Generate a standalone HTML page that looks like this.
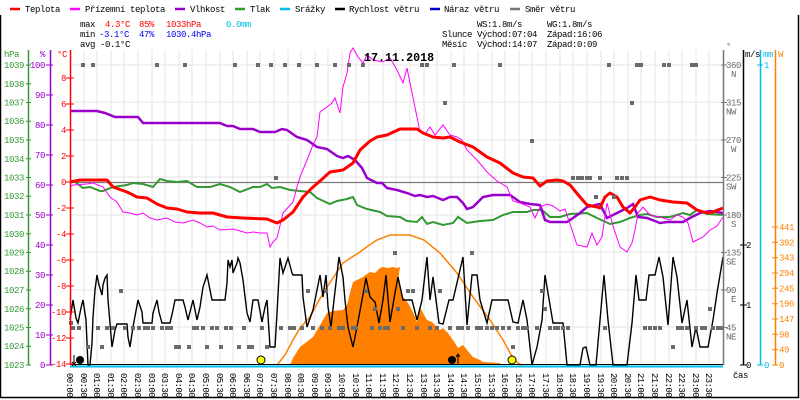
<!DOCTYPE html>
<html><head><meta charset="utf-8"><style>
html,body{margin:0;padding:0;background:#fff;}
svg{display:block;}
text{font-family:"Liberation Mono","DejaVu Sans Mono",monospace;font-size:9px;letter-spacing:-0.4px;}
.t{font-size:9px;letter-spacing:-0.6px;}
</style></head><body>
<svg width="800" height="400" viewBox="0 0 800 400" xmlns="http://www.w3.org/2000/svg">
<rect width="800" height="400" fill="#fff"/>
<!-- frame -->
<path d="M0.5,15 V397.5 H798.5 V15" fill="none" stroke="#000" stroke-width="1.5"/>

<!-- vertical grid -->
<path stroke="#e4e4e4" stroke-width="1" fill="none" shape-rendering="crispEdges" d="M84,50V365M97,50V365M111,50V365M124,50V365M138,50V365M152,50V365M165,50V365M179,50V365M192,50V365M206,50V365M220,50V365M233,50V365M247,50V365M260,50V365M274,50V365M288,50V365M301,50V365M315,50V365M328,50V365M342,50V365M356,50V365M369,50V365M383,50V365M396,50V365M410,50V365M424,50V365M437,50V365M451,50V365M464,50V365M478,50V365M492,50V365M505,50V365M519,50V365M532,50V365M546,50V365M560,50V365M573,50V365M587,50V365M601,50V365M614,50V365M628,50V365M641,50V365M655,50V365M669,50V365M682,50V365M696,50V365M709,50V365"/>
<!-- horizontal grid -->
<path stroke="#e4e4e4" stroke-width="1" fill="none" shape-rendering="crispEdges" d="M70,65H723M70,102H723M70,140H723M70,177H723M70,215H723M70,252H723M70,290H723M70,327H723"/>
<!-- 0 C line -->
<path d="M70,182.5H723" stroke="#7a7a7a" stroke-width="1.3"/>

<!-- solar area -->
<polygon fill="#ff8000" points="290,365 293,358 300,347 313,337 323,320 327,313 333,311 343,310 347,305 350,293 353,282 357,280 363,277 370,272 375,273 380,268 383,267 388,268 393,267 397,268 400,267 398,280 403,297 408,303 413,312 417,322 420,307 423,313 427,320 432,322 437,327 440,330 443,328 448,333 455,343 458,348 463,345 467,350 473,357 480,360 483,362 500,363 502,365"/>
<!-- theoretical solar -->
<polyline fill="none" stroke="#ff8000" stroke-width="1.5" points="277,365 285,355 293,340 300,328 310,317 318,302 327,287 335,275 343,263 352,257 360,252 368,246 377,240 390,235 410,235 424,240 440,253 457,273 473,297 490,320 503,340 513,358 518,363 522,365"/>

<!-- pressure -->
<polyline fill="none" stroke="#339933" stroke-width="2" points="70,182 75,182 83,188 90,187 100,191 103,191 113,187 127,185 133,183 143,184 153,187 160,179 167,181 177,182 187,181 197,187 210,187 220,184 230,187 240,192 253,187 260,187 267,184 272,188 280,187 290,190 300,191 310,192 317,198 330,204 337,201 347,199 353,197 357,205 367,209 380,212 387,216 400,217 407,221 417,222 422,217 427,224 433,222 443,225 453,223 458,217 467,223 480,221 493,220 503,215 513,212 527,212 533,210 542,210 550,217 560,217 570,214 587,213 597,218 610,224 620,222 630,218 640,215 647,214 657,217 670,217 683,213 690,215 697,210 707,214 723,215"/>
<!-- humidity -->
<polyline fill="none" stroke="#9900cc" stroke-width="2.5" points="70,111 97,111 105,113 115,117 138,117 143,123 220,123 227,126 233,126 240,129 253,129 260,132 275,132 282,129 287,130 297,137 307,140 317,147 327,149 337,156 343,158 348,156 355,160 362,168 367,178 377,183 382,183 387,188 397,190 407,193 415,196 420,195 427,197 433,196 443,200 450,197 457,197 463,203 467,209 473,207 483,197 493,195 510,195 520,202 530,204 540,205 545,220 550,222 567,222 573,218 580,213 587,207 600,204 607,218 617,213 627,208 633,204 638,217 647,218 660,223 667,222 683,222 690,218 700,213 710,211 723,213"/>
<!-- apparent temperature -->
<polyline fill="none" stroke="#ff00ff" stroke-width="1" points="70,187 73,185 87,184 93,183 103,187 110,197 117,202 123,212 130,213 137,215 143,213 150,218 157,220 167,218 175,222 183,223 193,220 200,223 207,227 213,226 220,230 233,229 247,233 253,232 260,233 267,233 270,247 273,242 277,238 283,213 293,202 297,187 300,177 307,160 313,145 317,137 320,112 327,107 332,103 335,98 340,113 343,87 347,73 350,53 353,48 358,57 363,63 367,55 373,60 383,62 390,58 397,70 403,83 407,68 410,83 417,117 420,132 425,134 430,127 435,135 443,125 450,135 457,137 462,140 467,150 477,160 487,172 497,181 507,187 513,201 520,203 530,207 535,218 540,207 547,204 553,206 560,211 565,209 572,230 577,245 587,247 592,233 597,245 602,237 607,203 613,226 620,247 627,252 632,243 635,230 638,213 643,207 648,213 653,216 660,217 670,220 677,215 683,217 688,223 693,242 697,240 703,237 710,230 717,226 723,217"/>
<!-- temperature -->
<polyline fill="none" stroke="#ff0000" stroke-width="3" stroke-linejoin="round" points="70,182 75,181 80,180 107,180 113,187 127,192 137,197 147,198 157,204 167,208 177,209 187,212 200,213 213,213 227,217 243,218 267,219 277,223 283,220 293,212 303,197 313,187 320,181 330,172 343,170 353,163 360,150 370,141 377,137 387,135 400,129 417,129 423,133 433,137 443,138 450,137 460,142 473,147 487,157 500,163 513,173 523,177 533,178 540,186 547,181 557,180 563,181 570,185 580,197 587,205 597,207 600,208 605,197 610,193 617,197 623,207 630,213 635,207 640,200 650,197 660,200 673,202 687,203 697,210 707,213 713,212 723,208"/>
<!-- wind speed -->
<polyline fill="none" stroke="#000" stroke-width="1.4" points="70,320 73,300 76,318 78,323 81,308 83,300 86,320 88,365 90,365 92,343 93,317 95,290 97,275 99,285 102,295 103,285 105,278 107,275 108,300 112,347 115,330 117,324 127,324 128,337 130,347 133,327 138,300 142,312 143,323 152,323 153,313 157,300 159,312 162,323 170,323 173,310 175,300 183,300 185,307 188,320 193,300 197,320 200,307 203,287 207,275 210,290 212,300 225,300 227,283 228,260 230,267 232,260 233,273 237,263 238,258 240,263 243,280 247,313 250,322 253,300 258,300 262,322 265,307 267,300 270,347 275,347 277,313 280,258 283,273 288,258 292,273 293,275 302,275 303,297 307,327 313,310 320,275 323,297 326,275 328,307 331,327 334,300 339,257 343,277 345,300 348,327 353,347 357,327 362,300 366,278 370,297 375,302 379,323 383,300 386,275 390,322 395,293 398,277 403,300 412,300 417,320 422,300 427,257 430,300 433,277 439,323 443,324 449,300 453,300 463,257 467,325 472,275 477,275 480,300 487,323 492,300 508,300 513,322 518,323 523,300 527,320 532,365 537,347 542,320 545,275 548,293 553,323 563,323 567,365 580,365 583,348 586,347 590,365 596,365 600,320 604,275 608,320 613,365 627,365 632,323 636,275 639,300 646,300 649,275 655,275 659,257 663,277 668,325 673,257 677,277 682,323 687,300 692,347 696,327 700,347 708,347 713,320 717,293 723,257"/>

<!-- direction squares -->
<g fill="#6b6b6b">
<rect x="81" y="63" width="4" height="4"/><rect x="91" y="63" width="4" height="4"/><rect x="155" y="63" width="4" height="4"/><rect x="183" y="63" width="4" height="4"/><rect x="233" y="63" width="4" height="4"/><rect x="256" y="63" width="4" height="4"/><rect x="269" y="63" width="4" height="4"/><rect x="283" y="63" width="4" height="4"/><rect x="297" y="63" width="4" height="4"/><rect x="315" y="63" width="4" height="4"/><rect x="333" y="63" width="4" height="4"/><rect x="347" y="63" width="4" height="4"/><rect x="361" y="63" width="4" height="4"/><rect x="420" y="63" width="4" height="4"/><rect x="425" y="63" width="4" height="4"/><rect x="452" y="63" width="4" height="4"/><rect x="498" y="63" width="4" height="4"/><rect x="607" y="63" width="4" height="4"/><rect x="635" y="63" width="4" height="4"/><rect x="639" y="63" width="4" height="4"/><rect x="662" y="63" width="4" height="4"/><rect x="667" y="63" width="4" height="4"/><rect x="690" y="63" width="4" height="4"/><rect x="694" y="63" width="4" height="4"/>
<rect x="443" y="101" width="4" height="4"/><rect x="630" y="101" width="4" height="4"/>
<rect x="530" y="139" width="4" height="4"/>
<rect x="274" y="176" width="4" height="4"/><rect x="571" y="176" width="4" height="4"/><rect x="576" y="176" width="4" height="4"/><rect x="580" y="176" width="4" height="4"/><rect x="585" y="176" width="4" height="4"/><rect x="588" y="176" width="4" height="4"/><rect x="598" y="176" width="4" height="4"/><rect x="615" y="176" width="4" height="4"/><rect x="620" y="176" width="4" height="4"/><rect x="625" y="176" width="4" height="4"/>
<rect x="594" y="195" width="4" height="4"/><rect x="612" y="195" width="4" height="4"/>
<rect x="393" y="251" width="4" height="4"/><rect x="470" y="251" width="4" height="4"/>
<rect x="119" y="289" width="4" height="4"/><rect x="306" y="289" width="4" height="4"/><rect x="324" y="289" width="4" height="4"/><rect x="364" y="289" width="4" height="4"/><rect x="406" y="289" width="4" height="4"/><rect x="411" y="289" width="4" height="4"/><rect x="438" y="289" width="4" height="4"/><rect x="540" y="289" width="4" height="4"/>
<rect x="373" y="307" width="4" height="4"/><rect x="396" y="307" width="4" height="4"/><rect x="543" y="307" width="4" height="4"/><rect x="708" y="307" width="4" height="4"/>
<rect x="69" y="321" width="4" height="4"/>
<rect x="71" y="326" width="4" height="4"/><rect x="77" y="326" width="4" height="4"/><rect x="96" y="326" width="4" height="4"/><rect x="105" y="326" width="4" height="4"/><rect x="111" y="326" width="4" height="4"/><rect x="123" y="326" width="4" height="4"/><rect x="131" y="326" width="4" height="4"/><rect x="137" y="326" width="4" height="4"/><rect x="143" y="326" width="4" height="4"/><rect x="146" y="326" width="4" height="4"/><rect x="151" y="326" width="4" height="4"/><rect x="160" y="326" width="4" height="4"/><rect x="165" y="326" width="4" height="4"/><rect x="169" y="326" width="4" height="4"/><rect x="192" y="326" width="4" height="4"/><rect x="195" y="326" width="4" height="4"/><rect x="201" y="326" width="4" height="4"/><rect x="210" y="326" width="4" height="4"/><rect x="215" y="326" width="4" height="4"/><rect x="224" y="326" width="4" height="4"/><rect x="229" y="326" width="4" height="4"/><rect x="242" y="326" width="4" height="4"/><rect x="260" y="326" width="4" height="4"/><rect x="279" y="326" width="4" height="4"/><rect x="288" y="326" width="4" height="4"/><rect x="292" y="326" width="4" height="4"/><rect x="300" y="326" width="4" height="4"/><rect x="311" y="326" width="4" height="4"/><rect x="320" y="326" width="4" height="4"/><rect x="328" y="326" width="4" height="4"/><rect x="337" y="326" width="4" height="4"/><rect x="341" y="326" width="4" height="4"/><rect x="351" y="326" width="4" height="4"/><rect x="354" y="326" width="4" height="4"/><rect x="370" y="326" width="4" height="4"/><rect x="378" y="326" width="4" height="4"/><rect x="383" y="326" width="4" height="4"/><rect x="386" y="326" width="4" height="4"/><rect x="401" y="326" width="4" height="4"/><rect x="415" y="326" width="4" height="4"/><rect x="428" y="326" width="4" height="4"/><rect x="435" y="326" width="4" height="4"/><rect x="448" y="326" width="4" height="4"/><rect x="456" y="326" width="4" height="4"/><rect x="460" y="326" width="4" height="4"/><rect x="466" y="326" width="4" height="4"/><rect x="475" y="326" width="4" height="4"/><rect x="479" y="326" width="4" height="4"/><rect x="485" y="326" width="4" height="4"/><rect x="490" y="326" width="4" height="4"/><rect x="495" y="326" width="4" height="4"/><rect x="501" y="326" width="4" height="4"/><rect x="507" y="326" width="4" height="4"/><rect x="516" y="326" width="4" height="4"/><rect x="521" y="326" width="4" height="4"/><rect x="525" y="326" width="4" height="4"/><rect x="535" y="326" width="4" height="4"/><rect x="548" y="326" width="4" height="4"/><rect x="553" y="326" width="4" height="4"/><rect x="556" y="326" width="4" height="4"/><rect x="561" y="326" width="4" height="4"/><rect x="566" y="326" width="4" height="4"/><rect x="603" y="326" width="4" height="4"/><rect x="643" y="326" width="4" height="4"/><rect x="648" y="326" width="4" height="4"/><rect x="653" y="326" width="4" height="4"/><rect x="658" y="326" width="4" height="4"/><rect x="676" y="326" width="4" height="4"/><rect x="680" y="326" width="4" height="4"/><rect x="685" y="326" width="4" height="4"/><rect x="694" y="326" width="4" height="4"/><rect x="700" y="326" width="4" height="4"/><rect x="703" y="326" width="4" height="4"/><rect x="711" y="326" width="4" height="4"/><rect x="716" y="326" width="4" height="4"/><rect x="720" y="326" width="4" height="4"/>
<rect x="86" y="345" width="4" height="4"/><rect x="100" y="345" width="4" height="4"/><rect x="174" y="345" width="4" height="4"/><rect x="177" y="345" width="4" height="4"/><rect x="187" y="345" width="4" height="4"/><rect x="205" y="345" width="4" height="4"/><rect x="219" y="345" width="4" height="4"/><rect x="237" y="345" width="4" height="4"/><rect x="247" y="345" width="4" height="4"/><rect x="250" y="345" width="4" height="4"/><rect x="265" y="345" width="4" height="4"/><rect x="511" y="345" width="4" height="4"/><rect x="671" y="345" width="4" height="4"/>
</g>

<!-- bottom lines -->
<path d="M70,364.5H723" stroke="#000" stroke-width="1"/>
<path d="M70,366.5H723" stroke="#00bbee" stroke-width="2"/>

<!-- sun / moon markers -->
<circle cx="80" cy="360" r="4" fill="#000"/>
<circle cx="452" cy="360" r="4" fill="#000"/>
<circle cx="261" cy="360" r="4" fill="#ffff00" stroke="#000" stroke-width="1"/>
<circle cx="512" cy="360" r="4" fill="#ffff00" stroke="#000" stroke-width="1"/>
<path d="M458,365V354M456,357L458,354L460,357" stroke="#000" stroke-width="1" fill="none"/>
<path d="M74,365V355M72,362L76,366M76,362L72,366" stroke="#000" stroke-width="1" fill="none"/>

<!-- axes -->
<path d="M28.5,50V365" stroke="#339933" stroke-width="1.5"/>
<path d="M50.5,50V365" stroke="#9900cc" stroke-width="1.5"/>
<path d="M70.5,50V365" stroke="#ff0000" stroke-width="1.5"/>
<path d="M723.5,50V365" stroke="#777" stroke-width="1.5"/>
<path d="M743.5,50V365" stroke="#000" stroke-width="1.5"/>
<path d="M760.5,50V365" stroke="#00bbee" stroke-width="1.5"/>
<path d="M775.5,50V365" stroke="#ff8000" stroke-width="1.5"/>

<!-- hPa ticks -->
<g stroke="#339933" stroke-width="1"><path d="M26,65H31M26,83.75H31M26,102.5H31M26,121.25H31M26,140H31M26,158.75H31M26,177.5H31M26,196.25H31M26,215H31M26,233.75H31M26,252.5H31M26,271.25H31M26,290H31M26,308.75H31M26,327.5H31M26,346.25H31M26,365H31"/></g>
<g fill="#339933" text-anchor="end">
<text x="24" y="68">1039</text><text x="24" y="87">1038</text><text x="24" y="105.5">1037</text><text x="24" y="124">1036</text><text x="24" y="143">1035</text><text x="24" y="162">1034</text><text x="24" y="180.5">1033</text><text x="24" y="199">1032</text><text x="24" y="218">1031</text><text x="24" y="237">1030</text><text x="24" y="255.5">1029</text><text x="24" y="274">1028</text><text x="24" y="293">1027</text><text x="24" y="312">1026</text><text x="24" y="330.5">1025</text><text x="24" y="349">1024</text><text x="24" y="368">1023</text>
</g>
<text x="4" y="57" fill="#339933">hPa</text>
<!-- % ticks -->
<g stroke="#9900cc" stroke-width="1"><path d="M46,65H53M46,95H53M46,125H53M46,155H53M46,185H53M46,215H53M46,245H53M46,275H53M46,305H53M46,335H53M46,365H53"/></g>
<g fill="#9900cc" text-anchor="end">
<text x="45" y="68">100</text><text x="45" y="98">90</text><text x="45" y="128">80</text><text x="45" y="158">70</text><text x="45" y="188">60</text><text x="45" y="218">50</text><text x="45" y="248">40</text><text x="45" y="278">30</text><text x="45" y="308">20</text><text x="45" y="338">10</text><text x="45" y="368">0</text>
</g>
<text x="40" y="57" fill="#9900cc">%</text>
<!-- C ticks -->
<g stroke="#ff0000" stroke-width="1"><path d="M66,78H74M66,104H74M66,130H74M66,156H74M66,182H74M66,208H74M66,234H74M66,260H74M66,286H74M66,312H74M66,338H74M66,364H74"/></g>
<g fill="#ff0000" text-anchor="end">
<text x="66" y="81">8</text><text x="66" y="107">6</text><text x="66" y="133">4</text><text x="66" y="159">2</text><text x="66" y="185">0</text><text x="66" y="211">-2</text><text x="66" y="237">-4</text><text x="66" y="263">-6</text><text x="66" y="289">-8</text><text x="66" y="315">-10</text><text x="66" y="341">-12</text><text x="66" y="367">-14</text>
</g>
<text x="57" y="57" fill="#ff0000">°C</text>

<!-- direction axis -->
<g stroke="#777" stroke-width="1"><path d="M721,65H727M721,102.5H727M721,140H727M721,177.5H727M721,215H727M721,252.5H727M721,290H727M721,327.5H727"/></g>
<g fill="#666">
<text x="726" y="68">360</text><text x="726" y="105.5">315</text><text x="726" y="143">270</text><text x="726" y="180.5">225</text><text x="726" y="218">180</text><text x="726" y="255.5">135</text><text x="726" y="293">90</text><text x="726" y="330.5">45</text>
</g>
<g fill="#666" text-anchor="end">
<text x="736" y="77">N</text><text x="736" y="114.5">NW</text><text x="736" y="152">W</text><text x="736" y="189.5">SW</text><text x="736" y="227">S</text><text x="736" y="264.5">SE</text><text x="736" y="302">E</text><text x="736" y="339.5">NE</text>
</g>
<text x="726" y="49" fill="#666">°</text>
<!-- m/s -->
<g stroke="#000" stroke-width="1"><path d="M740,245H747M740,305H747M740,365H747"/></g>
<g fill="#000"><text x="746" y="248">2</text><text x="746" y="308">1</text><text x="746" y="368">0</text></g>
<text x="745" y="57" fill="#000">m/s</text>
<!-- mm -->
<g stroke="#00bbee" stroke-width="1"><path d="M757,65H763M757,365H763"/></g>
<g fill="#00bbee"><text x="764" y="68">1</text><text x="764" y="368">0</text></g>
<text x="763" y="57" fill="#00bbee">mm</text>
<!-- W -->
<g stroke="#ff8000" stroke-width="1"><path d="M772,227H778M772,242.3H778M772,257.7H778M772,273H778M772,288.3H778M772,303.7H778M772,319H778M772,334.3H778M772,349.7H778M772,365H778"/></g>
<g fill="#ff8000">
<text x="779" y="230">441</text><text x="779" y="245.3">392</text><text x="779" y="260.7">343</text><text x="779" y="276">294</text><text x="779" y="291.3">245</text><text x="779" y="306.7">196</text><text x="779" y="322">147</text><text x="779" y="337.3">98</text><text x="779" y="352.7">49</text><text x="779" y="368">0</text>
</g>
<text x="778" y="57" fill="#ff8000">W</text>
<text x="733" y="378" fill="#000">čas</text>

<!-- title -->
<text x="364" y="61" fill="#000" style="font-size:11.7px;font-weight:bold;letter-spacing:0">17.11.2018</text>

<!-- legend -->
<g stroke-width="2.5">
<path d="M10,9H20" stroke="#ff0000"/><path d="M70,9H80" stroke="#ff00ff"/><path d="M175,9H185" stroke="#9900cc"/><path d="M235,9H245" stroke="#339933"/><path d="M280,9H290" stroke="#00bbee"/><path d="M335,9H345" stroke="#000"/><path d="M430,9H440" stroke="#0000cc"/><path d="M510,9H520" stroke="#777"/>
</g>
<g fill="#000">
<text x="25" y="12">Teplota</text><text x="85" y="12">Přízemní teplota</text><text x="190" y="12">Vlhkost</text><text x="250" y="12">Tlak</text><text x="295" y="12">Srážky</text><text x="349" y="12">Rychlost větru</text><text x="444" y="12">Náraz větru</text><text x="525" y="12">Směr větru</text>
</g>

<!-- stats -->
<text x="80" y="27" fill="#000">max</text>
<text x="105" y="27" fill="#ff0000">4.3°C</text>
<text x="139" y="27" fill="#ff0000">85%</text>
<text x="166" y="27" fill="#ff0000">1033hPa</text>
<text x="226" y="27" fill="#00bbee">0.0mm</text>
<text x="80" y="37" fill="#000">min</text>
<text x="99" y="37" fill="#0000ee">-3.1°C</text>
<text x="139" y="37" fill="#0000ee">47%</text>
<text x="166" y="37" fill="#0000ee">1030.4hPa</text>
<text x="80" y="47" fill="#000">avg -0.1°C</text>

<text x="477" y="27" fill="#000">WS:1.8m/s</text>
<text x="547" y="27" fill="#000">WG:1.8m/s</text>
<text x="442" y="37" fill="#000">Slunce</text>
<text x="477" y="37" fill="#000">Východ:07:04</text>
<text x="547" y="37" fill="#000">Západ:16:06</text>
<text x="442" y="47" fill="#000">Měsíc</text>
<text x="477" y="47" fill="#000">Východ:14:07</text>
<text x="547" y="47" fill="#000">Západ:0:09</text>

<!-- time labels -->
<g fill="#000" class="t">
<text class="t" transform="translate(67,373) rotate(90)">00:00</text>
<text class="t" transform="translate(81,373) rotate(90)">00:30</text>
<text class="t" transform="translate(94,373) rotate(90)">01:00</text>
<text class="t" transform="translate(108,373) rotate(90)">01:30</text>
<text class="t" transform="translate(121,373) rotate(90)">02:00</text>
<text class="t" transform="translate(135,373) rotate(90)">02:30</text>
<text class="t" transform="translate(149,373) rotate(90)">03:00</text>
<text class="t" transform="translate(162,373) rotate(90)">03:30</text>
<text class="t" transform="translate(176,373) rotate(90)">04:00</text>
<text class="t" transform="translate(189,373) rotate(90)">04:30</text>
<text class="t" transform="translate(203,373) rotate(90)">05:00</text>
<text class="t" transform="translate(217,373) rotate(90)">05:30</text>
<text class="t" transform="translate(230,373) rotate(90)">06:00</text>
<text class="t" transform="translate(244,373) rotate(90)">06:30</text>
<text class="t" transform="translate(257,373) rotate(90)">07:00</text>
<text class="t" transform="translate(271,373) rotate(90)">07:30</text>
<text class="t" transform="translate(285,373) rotate(90)">08:00</text>
<text class="t" transform="translate(298,373) rotate(90)">08:30</text>
<text class="t" transform="translate(312,373) rotate(90)">09:00</text>
<text class="t" transform="translate(325,373) rotate(90)">09:30</text>
<text class="t" transform="translate(339,373) rotate(90)">10:00</text>
<text class="t" transform="translate(353,373) rotate(90)">10:30</text>
<text class="t" transform="translate(366,373) rotate(90)">11:00</text>
<text class="t" transform="translate(380,373) rotate(90)">11:30</text>
<text class="t" transform="translate(393,373) rotate(90)">12:00</text>
<text class="t" transform="translate(407,373) rotate(90)">12:30</text>
<text class="t" transform="translate(421,373) rotate(90)">13:00</text>
<text class="t" transform="translate(434,373) rotate(90)">13:30</text>
<text class="t" transform="translate(448,373) rotate(90)">14:00</text>
<text class="t" transform="translate(461,373) rotate(90)">14:30</text>
<text class="t" transform="translate(475,373) rotate(90)">15:00</text>
<text class="t" transform="translate(489,373) rotate(90)">15:30</text>
<text class="t" transform="translate(502,373) rotate(90)">16:00</text>
<text class="t" transform="translate(516,373) rotate(90)">16:30</text>
<text class="t" transform="translate(529,373) rotate(90)">17:00</text>
<text class="t" transform="translate(543,373) rotate(90)">17:30</text>
<text class="t" transform="translate(557,373) rotate(90)">18:00</text>
<text class="t" transform="translate(570,373) rotate(90)">18:30</text>
<text class="t" transform="translate(584,373) rotate(90)">19:00</text>
<text class="t" transform="translate(598,373) rotate(90)">19:30</text>
<text class="t" transform="translate(611,373) rotate(90)">20:00</text>
<text class="t" transform="translate(625,373) rotate(90)">20:30</text>
<text class="t" transform="translate(638,373) rotate(90)">21:00</text>
<text class="t" transform="translate(652,373) rotate(90)">21:30</text>
<text class="t" transform="translate(666,373) rotate(90)">22:00</text>
<text class="t" transform="translate(679,373) rotate(90)">22:30</text>
<text class="t" transform="translate(693,373) rotate(90)">23:00</text>
<text class="t" transform="translate(706,373) rotate(90)">23:30</text>
</g>
</svg>
</body></html>
